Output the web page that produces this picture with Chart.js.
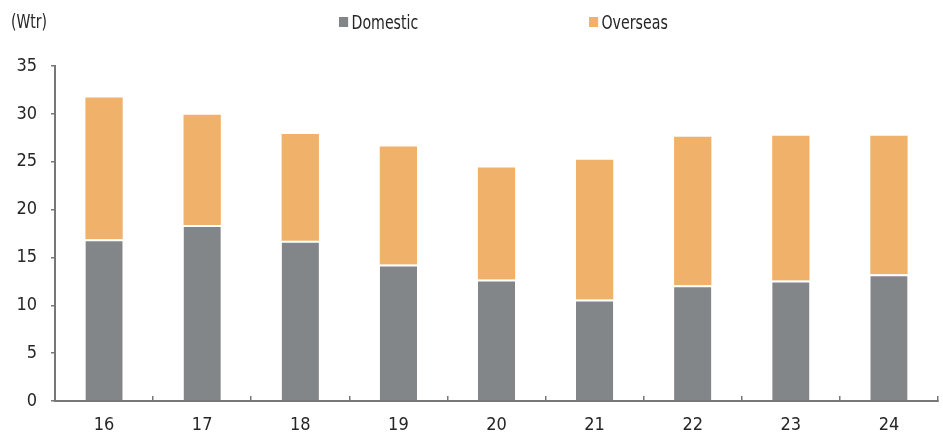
<!DOCTYPE html>
<html><head><meta charset="utf-8">
<script src="https://cdn.jsdelivr.net/npm/chart.js@4/dist/chart.umd.min.js"></script>
<style>
html,body{margin:0;padding:0;background:#fff;}
#wrap{position:relative;width:943px;height:434px;font-family:"DejaVu Sans Condensed",sans-serif;color:#262626;}
#unit{position:absolute;left:11px;top:10px;font-size:19px;transform:scaleX(0.82);transform-origin:left center;}
.lg{position:absolute;top:11px;font-size:19px;display:flex;align-items:center;transform:scaleX(0.83);transform-origin:left center;}
.lg span.b{display:inline-block;width:11px;height:10px;margin-right:4px;}
</style></head>
<body><div id="wrap">
<canvas id="c" width="943" height="434"></canvas>
<div id="unit">(Wtr)</div>
<div class="lg" style="left:339px"><span class="b" style="background:#838689"></span>Domestic</div>
<div class="lg" style="left:589px"><span class="b" style="background:#F0B16B"></span>Overseas</div>
</div>
<script>
const categories = ['16','17','18','19','20','21','22','23','24'];
const domestic = [16.9, 18.4, 16.75, 14.25, 12.7, 10.6, 12.1, 12.6, 13.25];
const overseas = [14.8, 11.5, 11.15, 12.35, 11.7, 14.6, 15.5, 15.1, 14.45];
const seriesNames = ['Domestic', 'Overseas'];
const yTicks = [0, 5, 10, 15, 20, 25, 30, 35];

const FONT = "'DejaVu Sans Condensed',sans-serif";
new Chart(document.getElementById('c'), {
  type: 'bar',
  data: {
    labels: categories,
    datasets: [
      {label: seriesNames[0], data: domestic, backgroundColor: '#838689',
       borderColor: '#ffffff', borderWidth: {top: 2, left: 0, right: 0, bottom: 0}, borderSkipped: false},
      {label: seriesNames[1], data: overseas, backgroundColor: '#F0B16B', borderWidth: 0}
    ]
  },
  options: {
    responsive: false,
    animation: false,
    layout: {padding: {top: 66, right: 5, left: 0, bottom: 0}},
    plugins: {legend: {display: false}, tooltip: {enabled: false}},
    datasets: {bar: {categoryPercentage: 1, barPercentage: 0.38}},
    scales: {
      x: {
        stacked: true,
        afterFit: (s) => { s.height = 33; },
        grid: {display: true, drawOnChartArea: false, offset: true, tickLength: -5, color: '#777', lineWidth: 1.5},
        border: {color: '#777', width: 2},
        ticks: {color: '#262626', font: {family: FONT, size: 18}, padding: 19}
      },
      y: {
        stacked: true,
        min: 0, max: 35,
        afterBuildTicks: (s) => { s.ticks = yTicks.map(v => ({value: v})); },
        afterFit: (s) => { s.width = 55; },
        grid: {display: true, drawOnChartArea: false, tickLength: 4, color: '#777', lineWidth: 1.5},
        border: {color: '#777', width: 2},
        ticks: {color: '#262626', font: {family: FONT, size: 18}, padding: 14}
      }
    }
  }
});
</script>
</body></html>
